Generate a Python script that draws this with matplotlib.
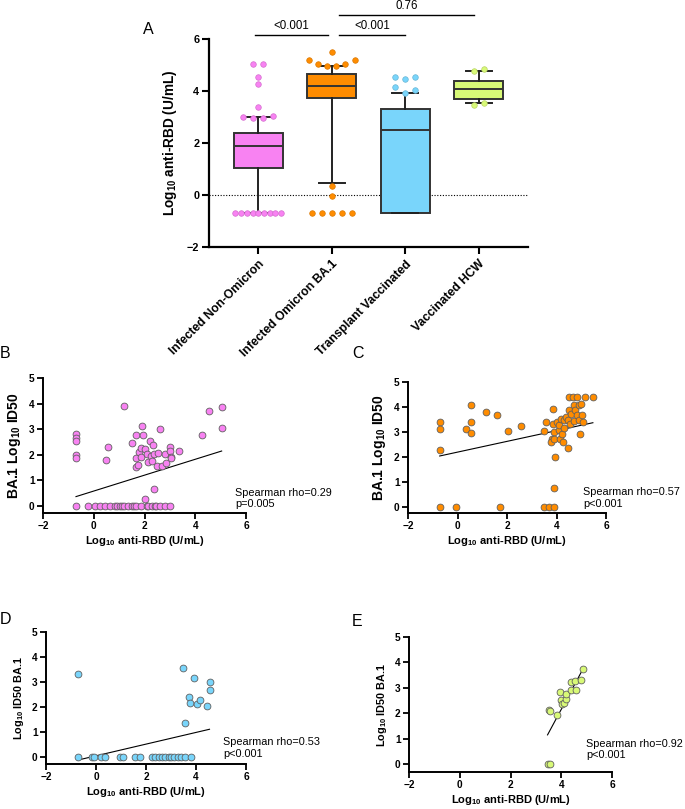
import numpy as np
import matplotlib
matplotlib.use('Agg')
import matplotlib.pyplot as plt

plt.rcParams['font.family'] = ['Liberation Sans', 'DejaVu Sans']
plt.rcParams['mathtext.fontset'] = 'custom'
plt.rcParams['mathtext.rm'] = 'Liberation Sans'
plt.rcParams['mathtext.bf'] = 'Liberation Sans:bold'

# ---- panel A data (box plots) ----
groups = ['Infected Non-Omicron', 'Infected Omicron BA.1',
          'Transplant Vaccinated', 'Vaccinated HCW']
colors = ['#F882F2', '#FF8C00', '#79D5FB', '#D8F977']
box_q1 = [1.03, 3.72, -0.68, 3.70]
box_med = [1.90, 4.18, 2.50, 4.08]
box_q3 = [2.37, 4.67, 3.32, 4.37]
whisk_lo = [-0.70, 0.48, -0.68, 3.52]
whisk_hi = [3.00, 4.95, 3.93, 4.78]
out_pink = [5.05, 5.05, 4.55, 4.28, 3.38, 3.00, 2.98, 2.98, 3.02] + [-0.70] * 9
out_orange = [5.50, 5.20, 5.05, 4.98, 4.98, 5.05, 5.20, 0.35, -0.05] + [-0.70] * 5
out_blue = [4.55, 4.48, 4.55, 4.15, 3.93, 4.05]
out_green = [4.78, 4.86, 3.48, 3.52]
outliers = [out_pink, out_orange, out_blue, out_green]
sig_pairs = [(0, 1), (1, 2), (1, 3)]
sig_text = ['<0.001', '<0.001', '0.76']

# ---- panel B: infected non-omicron ----
b_x = [-0.7, -0.7, -0.7, -0.7, -0.7, -0.7,
       0.57, 0.5, 1.18, 1.49, 1.66, 1.66, 1.66, 1.75, 1.79, 1.91, 1.88, 1.95,
       1.88, 2.01, 2.08, 2.12, 2.21, 2.24, 2.28, 2.34, 2.38, 2.54, 2.51, 2.63,
       2.70, 2.80, 2.84, 3.0, 3.0, 3.03, 3.03, 3.37, 2.36, 2.01, 4.28, 4.55,
       5.04, 5.04,
       -0.22, 0.04, 0.24, 0.43, 0.63, 0.83, 0.9, 1.03, 1.1, 1.18, 1.36, 1.49,
       1.6, 1.68, 1.88, 2.08, 2.15, 2.28, 2.4, 2.45, 2.63, 2.80, 3.0]
b_y = [2.8, 2.65, 2.55, 2.0, 1.88, 0,
       2.3, 1.8, 3.89, 2.45, 2.76, 1.86, 1.53, 1.6, 2.12, 3.13, 2.25, 2.76,
       1.92, 2.21, 2.05, 1.73, 2.54, 1.95, 1.77, 2.38, 2.05, 2.08, 1.57, 3.0,
       1.57, 2.03, 1.69, 2.29, 2.16, 1.92, 1.86, 2.16, 0.68, 0.29, 2.76, 3.72,
       3.85, 3.04,
       0, 0, 0, 0, 0, 0, 0, 0, 0, 0, 0, 0,
       0, 0, 0, 0, 0, 0, 0, 0, 0, 0, 0]

# ---- panel C: infected omicron BA.1 ----
c_x = [-0.72, -0.72, -0.72, -0.72, -0.05, 0.36, 0.56, 0.56, 0.56, 1.16, 1.6,
       1.73, 2.03, 2.57, 3.51, 3.59, 3.51, 3.69, 3.89, 3.89, 3.95, 3.86, 3.82,
       3.78, 3.86, 3.89, 3.91, 4.02, 4.09, 4.15, 4.09, 4.2, 4.22, 4.26, 4.31,
       4.29, 4.38, 4.48, 4.48, 4.52, 4.56, 4.59, 4.5, 4.67, 4.69, 4.69, 4.76,
       4.83, 4.83, 4.9, 4.94, 4.9, 4.99, 5.03, 5.07, 5.16, 5.47]
c_y = [3.4, 3.13, 2.29, 0, 0, 3.13, 4.07, 3.4, 2.96, 3.8, 3.67,
       0, 3.04, 3.23, 3.04, 3.4, 0, 0, 0, 0.76, 2.0, 3.93, 2.73,
       2.6, 3.33, 3.0, 2.73, 3.4, 3.09, 2.73, 3.27, 3.53, 2.93, 2.6, 3.17,
       3.49, 3.6, 2.37, 3.47, 3.87, 3.33, 3.73, 4.4, 4.4, 3.44, 4.07, 3.89,
       4.4, 3.67, 3.47, 2.93, 4.1, 4.13, 3.67, 3.4, 4.4, 4.4]

# ---- panel D: transplant vaccinated ----
d_x = [-0.72, -0.72, -0.16, -0.1, 0.21, 0.34, 0.94, 1.08, 1.57, 1.77,
       2.23, 2.37, 2.5, 2.63, 2.77, 2.9, 2.99, 3.13, 3.26, 3.39, 3.57, 3.81,
       3.47, 3.57, 3.73, 3.77, 3.93, 4.03, 4.17, 4.43, 4.54, 4.54]
d_y = [3.32, 0, 0, 0, 0, 0, 0, 0, 0, 0,
       0, 0, 0, 0, 0, 0, 0, 0, 0, 0, 0, 0,
       3.58, 1.35, 2.39, 2.15, 3.18, 2.12, 2.28, 2.04, 3.01, 2.68]

# ---- panel E: vaccinated HCW ----
e_x = [3.46, 3.57, 3.5, 3.57, 3.83, 3.96, 4.0, 4.03, 4.12, 4.18, 4.18,
       4.38, 4.39, 4.55, 4.58, 4.78, 4.86]
e_y = [0, 0, 2.11, 2.07, 1.94, 2.83, 2.51, 2.35, 2.4, 2.55, 2.74,
       2.93, 3.22, 3.27, 2.93, 3.32, 3.73]

# regression lines (slope, intercept) and Spearman stats
fits = [(0.31, 0.587), (0.215, 2.195), (0.234, 0.047), (1.857, -5.275)]
rhos = ['0.29', '0.57', '0.53', '0.92']
pvals = ['p=0.005', 'p<0.001', 'p<0.001', 'p<0.001']

W, H = 685, 809
fig = plt.figure(figsize=(W / 100, H / 100), dpi=100)


def px_rect(left, top, right, bottom):
    return [left / W, 1 - bottom / H, (right - left) / W, (bottom - top) / H]


def row_offsets(vals, tol=0.25, step=0.135, maxw=0.62):
    # group consecutive close values into rows and spread them sideways
    rows = [[vals[0]]]
    for v0, v1 in zip(vals[:-1], vals[1:]):
        if abs(v1 - v0) <= tol:
            rows[-1].append(v1)
        else:
            rows.append([v1])
    offs = []
    for r in rows:
        n = len(r)
        sp = min(step, maxw / (n - 1)) if n > 1 else 0
        offs += list((np.arange(n) - (n - 1) / 2) * sp)
    return np.array(offs)


def darker(c, f=0.8):
    rgb = np.array(matplotlib.colors.to_rgb(c))
    return tuple(rgb * f)


# ================= panel A =================
axA = fig.add_axes(px_rect(209, 39, 528, 247))
stats = []
for i in range(4):
    stats.append(dict(med=box_med[i], q1=box_q1[i], q3=box_q3[i],
                      whislo=whisk_lo[i], whishi=whisk_hi[i], fliers=[]))
bp = axA.bxp(stats, positions=range(4), widths=0.66, patch_artist=True,
             showfliers=False, capwidths=0.36,
             boxprops=dict(linewidth=1.4, edgecolor='#333333'),
             medianprops=dict(color='#333333', linewidth=1.4),
             whiskerprops=dict(color='#222222', linewidth=1.4),
             capprops=dict(color='#222222', linewidth=1.4))
for patch, c in zip(bp['boxes'], colors):
    patch.set_facecolor(c)

for i, vals in enumerate(outliers):
    xo = i + row_offsets(vals)
    axA.scatter(xo, vals, s=16, color=colors[i], edgecolors=darker(colors[i], 0.85),
                linewidths=0.5, zorder=4, clip_on=False)

axA.axhline(0, color='black', lw=0.8, ls=(0, (1, 1.5)), zorder=0)
axA.set_xlim(-0.67, 3.67)
axA.set_ylim(-2, 6)
axA.set_yticks([-2, 0, 2, 4, 6])
axA.set_xticks(range(4))
axA.set_xticklabels(groups, rotation=45, ha='right', rotation_mode='anchor',
                    fontsize=8.7, fontweight='bold')
for lab in axA.get_yticklabels():
    lab.set_fontweight('bold')
axA.tick_params(axis='y', labelsize=7.8, width=1.5, length=5, pad=2)
axA.tick_params(axis='x', width=1.5, length=5, pad=3)
axA.spines[['top', 'right']].set_visible(False)
axA.spines[['left', 'bottom']].set_linewidth(1.6)
axA.set_ylabel(r'Log$_{\mathbf{10}}$ anti-RBD (U/mL)', fontsize=9.8,
               fontweight='bold', labelpad=6)

# significance brackets
levels = [6.15, 6.15, 6.92]
shifts = [(-0.04, -0.05), (0.1, 0.0), (0.1, -0.07)]
for (i, j), t, lv, (s0, s1) in zip(sig_pairs, sig_text, levels, shifts):
    x0, x1 = i + s0, j + s1
    axA.plot([x0, x1], [lv, lv], color='black', lw=1.0, clip_on=False)
    axA.text((x0 + x1) / 2, lv + 0.13, t, ha='center', va='bottom',
             fontsize=8.3, clip_on=False)

fig.text(143 / W, 1 - 30 / H, 'A', fontsize=11.5, va='center', ha='left')

# ================= scatter panels =================
panels = [
    ('B', b_x, b_y, colors[0], (43, 378, 246, 513), -0.27,
     'BA.1 Log$_{\\mathbf{10}}$ ID50', 10, (5.56, 0.31), (0, 353)),
    ('C', c_x, c_y, colors[1], (408, 382, 606, 513), -0.24,
     'BA.1 Log$_{\\mathbf{10}}$ ID50', 10, (5.07, 0.36), (352, 353)),
    ('D', d_x, d_y, colors[2], (46, 632, 246, 764), -0.28,
     'Log$_{\\mathbf{10}}$ ID50 BA.1', 7.8, (5.08, 0.36), (0, 620)),
    ('E', e_x, e_y, colors[3], (409, 637, 612, 772), -0.31,
     'Log$_{\\mathbf{10}}$ ID50 BA.1', 7.8, (4.98, 0.57), (352, 622)),
]

for k, (letter, xs, ys, col, box, ymin, ylab, yfs, tpos, lpos) in enumerate(panels):
    l, t, r, b = box
    ax = fig.add_axes(px_rect(l, t, r, b))
    ax.scatter(xs, ys, s=24, color=col, edgecolors='#606060', linewidths=0.6,
               zorder=3, clip_on=False)
    xr = np.array([min(xs), max(xs)])
    m, c0 = fits[k]
    ax.plot(xr, m * xr + c0, color='black', lw=0.8, zorder=2)
    ax.set_xlim(-2, 6)
    ax.set_ylim(ymin, 5)
    ax.set_xticks([-2, 0, 2, 4, 6])
    ax.set_yticks([0, 1, 2, 3, 4, 5])
    for lab in ax.get_xticklabels() + ax.get_yticklabels():
        lab.set_fontweight('bold')
    ax.tick_params(labelsize=7.3, width=1.3, length=4, pad=2)
    ax.spines[['top', 'right']].set_visible(False)
    ax.spines[['left', 'bottom']].set_linewidth(1.4)
    ax.set_ylabel(ylab, fontsize=yfs, fontweight='bold', labelpad=4)
    ax.set_xlabel(r'Log$_{\mathbf{10}}$ anti-RBD (U/mL)', fontsize=8,
                  fontweight='bold', labelpad=2)
    ax.text(tpos[0], tpos[1], 'Spearman rho=' + rhos[k] + '\n' + pvals[k],
            ha='left', va='center', fontsize=7.8, linespacing=1.15, clip_on=False)
    fig.text(lpos[0] / W, 1 - lpos[1] / H, letter, fontsize=11.5,
             va='center', ha='left')

fig.savefig('out.png', dpi=100)
